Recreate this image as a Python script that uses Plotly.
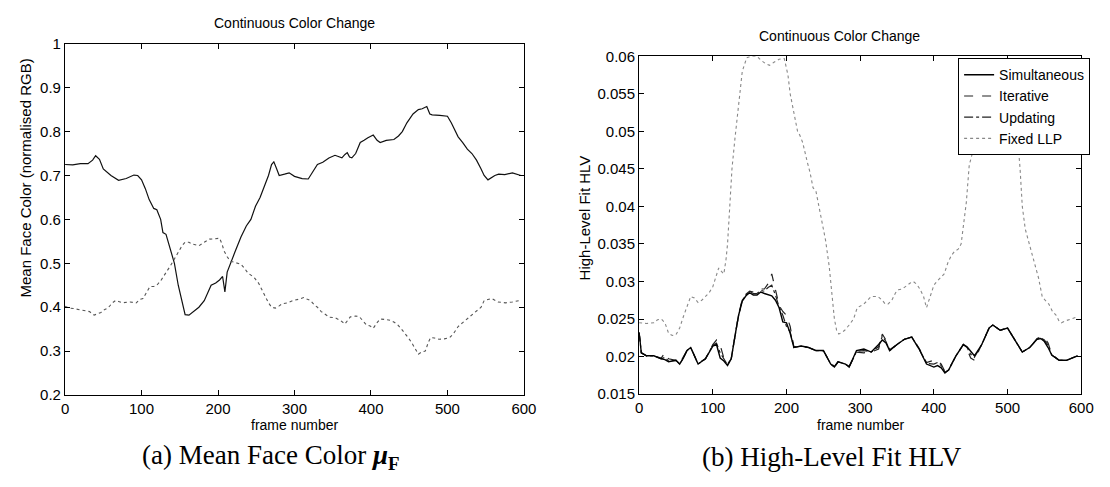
import plotly.graph_objects as go

# ---------------- data: panel (a) ----------------
a_top_frames = [0,10,20,30,36,40,45,50,60,70,80,90,95,100,105,110,116,120,125,128,132,136,140,143,148,153,157,162,170,175,182,191,197,202,206,209,212,216,222,230,237,243,249,255,261,266,270,273,276,280,287,293,300,310,318,324,330,337,345,353,358,362,366,369,372,375,380,386,391,396,403,408,412,420,430,436,441,447,455,462,467,473,477,480,490,500,505,510,514,520,526,532,538,544,548,553,558,562,567,575,585,590,596]
a_top_vals = [0.725,0.724,0.727,0.727,0.735,0.745,0.737,0.715,0.70,0.689,0.693,0.701,0.70,0.69,0.67,0.645,0.625,0.622,0.60,0.57,0.566,0.54,0.515,0.50,0.45,0.41,0.383,0.382,0.392,0.40,0.415,0.45,0.455,0.462,0.47,0.435,0.48,0.50,0.525,0.56,0.585,0.60,0.63,0.65,0.675,0.70,0.725,0.731,0.718,0.70,0.703,0.706,0.698,0.693,0.692,0.71,0.725,0.73,0.74,0.746,0.742,0.74,0.748,0.752,0.742,0.74,0.75,0.775,0.78,0.786,0.792,0.78,0.775,0.78,0.782,0.79,0.80,0.82,0.84,0.85,0.852,0.857,0.84,0.838,0.837,0.835,0.82,0.80,0.788,0.775,0.76,0.75,0.735,0.715,0.70,0.69,0.695,0.70,0.703,0.702,0.706,0.703,0.70]

a_low_frames = [0,5,11,18,25,32,38,43,47,52,56,62,66,70,75,85,93,98,102,107,111,116,120,125,129,134,138,143,148,153,157,162,166,171,175,182,189,196,202,205,208,212,216,222,230,235,239,244,248,253,257,262,266,270,275,280,284,291,298,305,312,317,321,326,330,335,339,346,353,360,366,369,373,380,385,390,394,399,403,408,412,419,426,431,435,440,444,449,453,458,462,466,471,475,478,483,489,496,503,508,514,520,526,532,539,544,548,553,558,566,576,585,594]
a_low_vals = [0.402,0.398,0.397,0.395,0.393,0.39,0.382,0.385,0.388,0.395,0.398,0.41,0.415,0.413,0.41,0.412,0.41,0.418,0.42,0.435,0.447,0.447,0.45,0.46,0.47,0.485,0.495,0.51,0.525,0.54,0.548,0.548,0.544,0.542,0.54,0.548,0.555,0.556,0.557,0.545,0.528,0.515,0.505,0.502,0.498,0.488,0.478,0.472,0.466,0.455,0.44,0.425,0.41,0.40,0.398,0.403,0.408,0.41,0.415,0.418,0.422,0.418,0.415,0.405,0.40,0.39,0.385,0.377,0.376,0.37,0.362,0.37,0.378,0.38,0.378,0.368,0.36,0.357,0.352,0.365,0.373,0.372,0.37,0.365,0.36,0.35,0.342,0.33,0.32,0.305,0.293,0.298,0.30,0.32,0.331,0.33,0.327,0.328,0.331,0.34,0.356,0.365,0.374,0.382,0.393,0.40,0.415,0.418,0.42,0.412,0.41,0.412,0.415]

# ---------------- data: panel (b) ----------------
b_frames = [0,3,10,20,30,35,40,50,55,60,65,70,80,90,100,105,110,115,120,125,130,135,140,145,150,155,160,165,170,175,180,185,190,195,200,205,210,220,230,240,250,260,265,270,280,285,290,295,305,315,325,330,335,340,350,360,370,380,390,400,405,410,415,420,430,440,445,450,455,465,475,480,490,500,510,520,530,540,545,550,555,560,570,580,590,595]
simultaneous = [0.0232,0.0205,0.0201,0.0201,0.0197,0.0196,0.0193,0.0195,0.019,0.0198,0.0208,0.0212,0.019,0.0197,0.0214,0.0216,0.0198,0.0194,0.0188,0.0197,0.0227,0.0255,0.0274,0.0281,0.0285,0.0282,0.0282,0.0286,0.0284,0.0283,0.0281,0.0275,0.0265,0.0246,0.0245,0.0231,0.0212,0.0214,0.0212,0.0208,0.0208,0.019,0.0186,0.0193,0.019,0.0186,0.0196,0.0208,0.021,0.0206,0.0216,0.0222,0.0218,0.0208,0.0216,0.0223,0.0226,0.021,0.019,0.0186,0.0188,0.0185,0.0178,0.0182,0.0201,0.0216,0.0213,0.0207,0.0201,0.0216,0.0238,0.0242,0.0235,0.0238,0.0222,0.0206,0.0212,0.0223,0.0224,0.022,0.0212,0.0202,0.0195,0.0195,0.0199,0.0201]
iterative = [0.0232,0.0205,0.0201,0.0201,0.0198,0.0205,0.0197,0.0195,0.0191,0.0199,0.0208,0.0212,0.0191,0.0197,0.0216,0.0222,0.0215,0.0198,0.019,0.0197,0.0227,0.0256,0.0276,0.0283,0.0287,0.0286,0.0287,0.029,0.029,0.0297,0.031,0.029,0.0268,0.026,0.0255,0.024,0.0213,0.0214,0.0212,0.0208,0.0208,0.0191,0.0187,0.0193,0.019,0.0187,0.0196,0.0206,0.0205,0.0206,0.021,0.023,0.0222,0.0209,0.0216,0.0223,0.0226,0.0211,0.0192,0.0195,0.0194,0.019,0.018,0.0183,0.0201,0.0216,0.021,0.0198,0.0195,0.0216,0.0238,0.0242,0.0235,0.0238,0.0222,0.0206,0.0212,0.0224,0.0226,0.0225,0.0218,0.0203,0.0195,0.0195,0.0199,0.0201]
updating = [0.0232,0.0205,0.0201,0.0201,0.0197,0.0199,0.0194,0.0195,0.019,0.0198,0.0208,0.0212,0.019,0.0197,0.0215,0.0218,0.0205,0.0196,0.0189,0.0197,0.0227,0.0255,0.0275,0.0282,0.0286,0.0284,0.0284,0.0288,0.0287,0.0292,0.0295,0.0282,0.0266,0.0255,0.024,0.0233,0.0212,0.0214,0.0212,0.0208,0.0208,0.019,0.0186,0.0193,0.019,0.0186,0.0196,0.0207,0.0208,0.0206,0.0213,0.0227,0.022,0.0208,0.0216,0.0223,0.0226,0.021,0.0191,0.019,0.0192,0.0188,0.0179,0.0182,0.0201,0.0216,0.0212,0.0203,0.0199,0.0216,0.0238,0.0242,0.0235,0.0238,0.0222,0.0206,0.0212,0.0223,0.0225,0.0222,0.0215,0.0202,0.0195,0.0195,0.0199,0.0201]

fixed_frames = [0,10,20,25,30,35,40,45,50,55,60,65,70,75,80,85,90,95,100,104,108,112,115,118,120,123,126,130,135,140,146,152,160,165,172,177,183,190,197,202,205,210,215,218,222,228,232,236,240,244,248,253,258,262,265,268,271,275,279,285,291,296,305,315,324,330,334,338,343,348,352,357,362,368,372,377,381,386,390,395,400,404,409,414,419,424,428,433,437,441,444,448,452,456,460,465,472,480,488,495,502,508,513,517,520,524,529,535,542,547,551,556,561,566,570,573,580,585,592]
fixed_llp = [0.0245,0.0244,0.0245,0.0249,0.025,0.0245,0.0231,0.0228,0.0229,0.0238,0.0253,0.0268,0.028,0.0278,0.0272,0.0275,0.028,0.0285,0.0293,0.0305,0.0318,0.0313,0.031,0.033,0.035,0.04,0.045,0.049,0.0532,0.058,0.0598,0.06,0.06,0.0595,0.059,0.0588,0.0592,0.0596,0.0597,0.0575,0.055,0.0525,0.050,0.0495,0.0485,0.046,0.0445,0.0425,0.042,0.040,0.038,0.0355,0.032,0.028,0.025,0.0235,0.023,0.0232,0.0235,0.0242,0.025,0.0265,0.027,0.028,0.028,0.0275,0.027,0.027,0.0275,0.0285,0.0289,0.029,0.0294,0.0298,0.030,0.0296,0.029,0.028,0.0265,0.028,0.0295,0.030,0.0305,0.031,0.0325,0.0335,0.034,0.0343,0.035,0.0385,0.0405,0.0455,0.047,0.048,0.050,0.053,0.0565,0.0588,0.0595,0.059,0.057,0.0535,0.050,0.045,0.040,0.037,0.035,0.033,0.0305,0.028,0.0275,0.027,0.026,0.0255,0.0247,0.0245,0.0248,0.025,0.0252]

W, H = 1110, 487
SANS = "Liberation Sans, Arial, sans-serif"
SERIF = "Liberation Serif, Times New Roman, serif"

def px(x):
    return x / W

def py(y):
    return 1 - y / H

fig = go.Figure()

fig.add_trace(go.Scatter(x=a_top_frames, y=a_top_vals, mode="lines", line=dict(color="#111", width=1.2),
                         xaxis="x", yaxis="y", showlegend=False))
fig.add_trace(go.Scatter(x=a_low_frames, y=a_low_vals, mode="lines", line=dict(color="#555", width=1.1, dash="dot"),
                         xaxis="x", yaxis="y", showlegend=False))

fig.add_trace(go.Scatter(x=fixed_frames, y=fixed_llp, mode="lines", name="Fixed LLP",
                         line=dict(color="#888", width=1.1, dash="dot"), xaxis="x2", yaxis="y2", legendrank=4))
fig.add_trace(go.Scatter(x=b_frames, y=updating, mode="lines", name="Updating",
                         line=dict(color="#222", width=1.2, dash="dashdot"), xaxis="x2", yaxis="y2", legendrank=3))
fig.add_trace(go.Scatter(x=b_frames, y=iterative, mode="lines", name="Iterative",
                         line=dict(color="#222", width=1.2, dash="dash"), xaxis="x2", yaxis="y2", legendrank=2))
fig.add_trace(go.Scatter(x=b_frames, y=simultaneous, mode="lines", name="Simultaneous",
                         line=dict(color="#000", width=1.4), xaxis="x2", yaxis="y2", legendrank=1))

axis_common = dict(showline=True, linecolor="black", linewidth=1.2, mirror="ticks", ticks="inside",
                   ticklen=5, tickcolor="black", showgrid=False, zeroline=False,
                   tickfont=dict(family=SANS, size=15, color="black"))

fig.update_layout(
    width=W, height=H, margin=dict(l=0, r=0, t=0, b=0),
    paper_bgcolor="white", plot_bgcolor="white",
    xaxis=dict(domain=[px(62), px(528)], range=[0, 600], dtick=100, anchor="y", **axis_common),
    yaxis=dict(domain=[py(400), py(36)], range=[0.2, 1], dtick=0.1, anchor="x", **axis_common),
    xaxis2=dict(domain=[px(645), px(1094)], range=[0, 600], dtick=100, anchor="y2", **axis_common),
    yaxis2=dict(domain=[py(399), py(49)], range=[0.015, 0.06], dtick=0.005, anchor="x2", **axis_common),
    legend=dict(x=px(1103), y=py(51), xanchor="right", yanchor="top", bgcolor="white",
                bordercolor="black", borderwidth=1, font=dict(family=SANS, size=14, color="black"),
                tracegroupgap=0, itemwidth=30, entrywidth=125, entrywidthmode="pixels"),
    showlegend=True,
)

def note(text, x, y, size, family=SANS, angle=0):
    fig.add_annotation(text=text, x=px(x), y=py(y), xref="paper", yref="paper", showarrow=False,
                       xanchor="center", yanchor="middle", textangle=angle,
                       font=dict(family=family, size=size, color="black"))

note("Continuous Color Change", 295, 15, 14)
note("Continuous Color Change", 848, 28, 14)
note("frame number", 295, 431, 14)
note("frame number", 870, 431, 14)
note("Mean Face Color (normalised RGB)", 22, 175, 15, angle=-90)
note("High-Level Fit HLV", 589, 216, 15, angle=-90)
note("(a) Mean Face Color <b><i>μ</i></b><sub><b>F</b></sub>", 271, 464, 27, family=SERIF)
note("(b) High-Level Fit HLV", 841, 464, 27, family=SERIF)

fig.write_html("out.html")
